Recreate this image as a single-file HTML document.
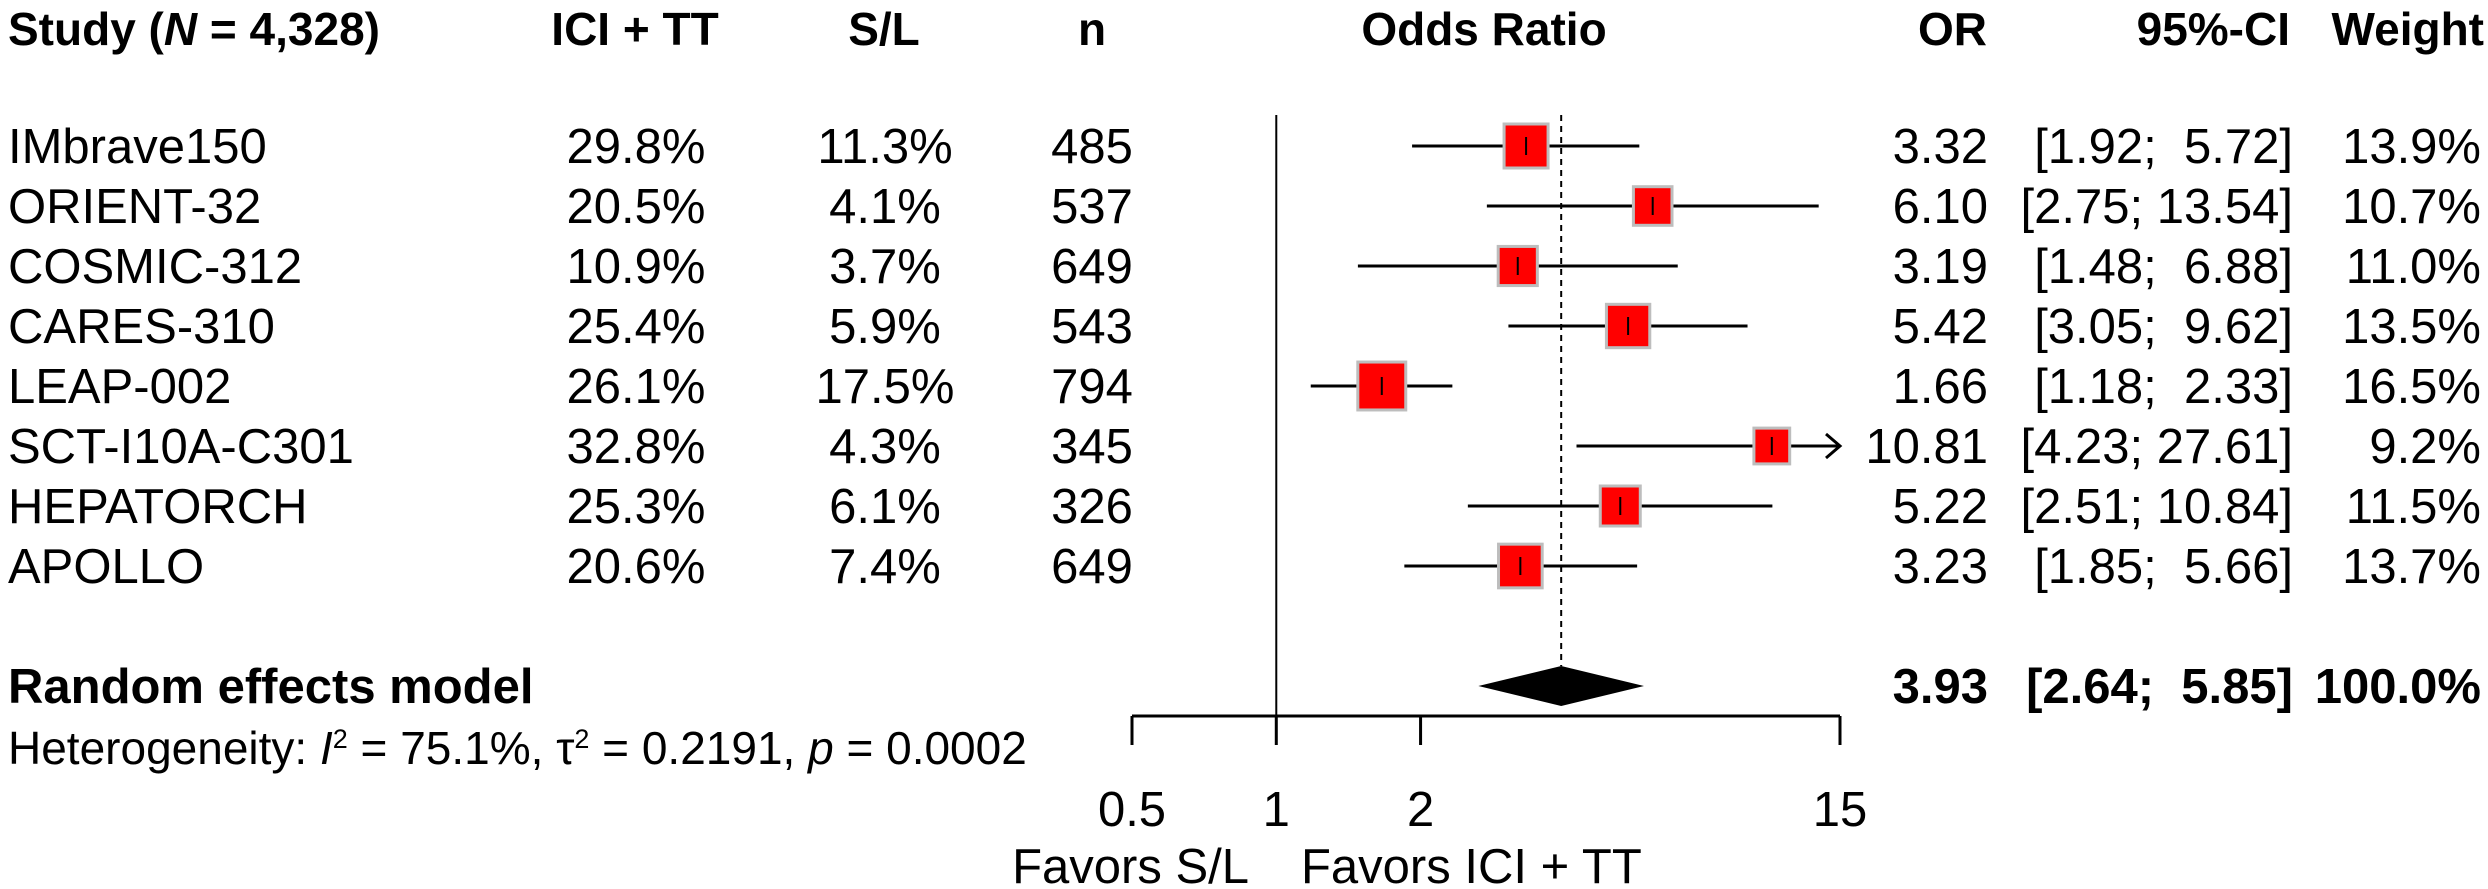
<!DOCTYPE html>
<html><head><meta charset="utf-8"><style>
html,body{margin:0;padding:0;background:#fff;}
svg{display:block;}
text{font-family:"Liberation Sans",Arial,sans-serif;font-size:49px;fill:#000;white-space:pre;}
.b{font-weight:bold;}
.h{font-size:46px;}
</style></head><body>
<svg id="chart" width="2488" height="889" viewBox="0 0 2488 889" xmlns="http://www.w3.org/2000/svg">
<g id="hdr">
<text class="b h" x="8" y="45">Study (<tspan font-style="italic">N</tspan> = 4,328)</text>
<text class="b h" x="635" y="45" text-anchor="middle">ICI + TT</text>
<text class="b h" x="884" y="45" text-anchor="middle">S/L</text>
<text class="b h" x="1092" y="45" text-anchor="middle">n</text>
<text class="b h" x="1484" y="45" text-anchor="middle">Odds Ratio</text>
<text class="b h" x="1987" y="45" text-anchor="end">OR</text>
<text class="b h" x="2290" y="45" text-anchor="end">95%-CI</text>
<text class="b h" x="2484" y="45" text-anchor="end">Weight</text>
</g>
<g id="rows"></g>
<g id="marks"></g>
<g id="axis"></g>
<text class="b" x="8" y="703">Random effects model</text>
<text class="h" x="8" y="764">Heterogeneity: <tspan font-style="italic">I</tspan><tspan dy="-16" font-size="27">2</tspan><tspan dy="16"> = 75.1%, τ</tspan><tspan dy="-16" font-size="27">2</tspan><tspan dy="16"> = 0.2191, </tspan><tspan font-style="italic">p</tspan> = 0.0002</text>
<text x="1249" y="883" text-anchor="end">Favors S/L</text>
<text x="1301" y="883">Favors ICI + TT</text>
</svg>
<script>
const studies = ["IMbrave150","ORIENT-32","COSMIC-312","CARES-310","LEAP-002","SCT-I10A-C301","HEPATORCH","APOLLO"];
const iciPct = ["29.8%","20.5%","10.9%","25.4%","26.1%","32.8%","25.3%","20.6%"];
const slPct = ["11.3%","4.1%","3.7%","5.9%","17.5%","4.3%","6.1%","7.4%"];
const nVals = [485,537,649,543,794,345,326,649];
const orVals = [3.32,6.10,3.19,5.42,1.66,10.81,5.22,3.23];
const lowerVals = [1.92,2.75,1.48,3.05,1.18,4.23,2.51,1.85];
const upperVals = [5.72,13.54,6.88,9.62,2.33,27.61,10.84,5.66];
const weights = [13.9,10.7,11.0,13.5,16.5,9.2,11.5,13.7];
const pooledOR = [3.93];
const pooledCI = [2.64,5.85];
const ticks = [0.5,1,2,15];
const tickLabels = ["0.5","1","2","15"];

const NS="http://www.w3.org/2000/svg";
const xMin=0.5, xMax=15, pxMin=1132, pxMax=1840;
function xs(v){return pxMin+(Math.log(v)-Math.log(xMin))/(Math.log(xMax)-Math.log(xMin))*(pxMax-pxMin);}
function ys(i){return 146+i*60;}
function el(tag,attrs,parent,txt){const e=document.createElementNS(NS,tag);for(const k in attrs)e.setAttribute(k,attrs[k]);if(txt!==undefined)e.textContent=txt;parent.appendChild(e);return e;}
function ciStr(lo,hi){const u=hi.toFixed(2);return '['+lo.toFixed(2)+';'+(u.length<5?'  ':' ')+u+']';}
const rows=document.getElementById('rows'), marks=document.getElementById('marks'), axis=document.getElementById('axis');

let vl=el('line',{x1:xs(1),x2:xs(1),y1:115,y2:716,stroke:'#000','stroke-width':2},marks);


let dl=el('line',{x1:xs(pooledOR[0]),x2:xs(pooledOR[0]),y1:115,y2:666,stroke:'#000','stroke-width':2,'stroke-dasharray':'6,5'},marks);



studies.forEach((s,i)=>{
  const y=ys(i), by=y+17;
  let t;
  t=el('text',{x:8,y:by},rows,s);
  
  
  t=el('text',{x:636,y:by,'text-anchor':'middle'},rows,iciPct[i]);
  
  
  t=el('text',{x:885,y:by,'text-anchor':'middle'},rows,slPct[i]);
  
  
  t=el('text',{x:1092,y:by,'text-anchor':'middle'},rows,String(nVals[i]));
  
  
  t=el('text',{x:1988,y:by,'text-anchor':'end'},rows,orVals[i].toFixed(2));
  
  
  t=el('text',{x:2293,y:by,'text-anchor':'end'},rows,ciStr(lowerVals[i],upperVals[i]));
  
  
  t=el('text',{x:2481,y:by,'text-anchor':'end'},rows,weights[i].toFixed(1)+'%');
  
  

  const x1=xs(Math.max(lowerVals[i],xMin)), x2=xs(Math.min(upperVals[i],xMax));
  let ln=el('line',{x1:x1,x2:x2,y1:y,y2:y,stroke:'#000','stroke-width':3},marks);
  
  
  if(upperVals[i]>xMax){
    let ar=el('polyline',{points:(x2-14)+','+(y-12)+' '+x2+','+y+' '+(x2-14)+','+(y+12),fill:'none',stroke:'#000','stroke-width':3},marks);
    
    
  }
  const side=11.8*Math.sqrt(weights[i]);
  const cx=xs(orVals[i]);
  let sq=el('rect',{x:cx-side/2,y:y-side/2,width:side,height:side,fill:'#ff0000',stroke:'#bdbdbd','stroke-width':3},marks);
  
  
  let tk=el('line',{x1:cx,x2:cx,y1:y-9,y2:y+9,stroke:'#000','stroke-width':2},marks);
  
  
});

const dy=686;
let dm=el('polygon',{points:xs(pooledCI[0])+','+dy+' '+xs(pooledOR[0])+','+(dy-20)+' '+xs(pooledCI[1])+','+dy+' '+xs(pooledOR[0])+','+(dy+20),fill:'#000'},marks);


[['pooled-or',1988,pooledOR[0].toFixed(2)],['pooled-ci',2293,ciStr(pooledCI[0],pooledCI[1])],['pooled-weight',2481,'100.0%']].forEach(a=>{
  let t=el('text',{x:a[1],y:dy+17,'text-anchor':'end','class':'b'},rows,a[2]);
  
  
});

let ax=el('line',{x1:pxMin,x2:pxMax,y1:716,y2:716,stroke:'#000','stroke-width':3},axis);


ticks.forEach((v,i)=>{
  let tl=el('line',{x1:xs(v),x2:xs(v),y1:716,y2:745,stroke:'#000','stroke-width':3},axis);
  
  
  let tt=el('text',{x:xs(v),y:826,'text-anchor':'middle'},axis,tickLabels[i]);
  
  
});
</script>
</body></html>
